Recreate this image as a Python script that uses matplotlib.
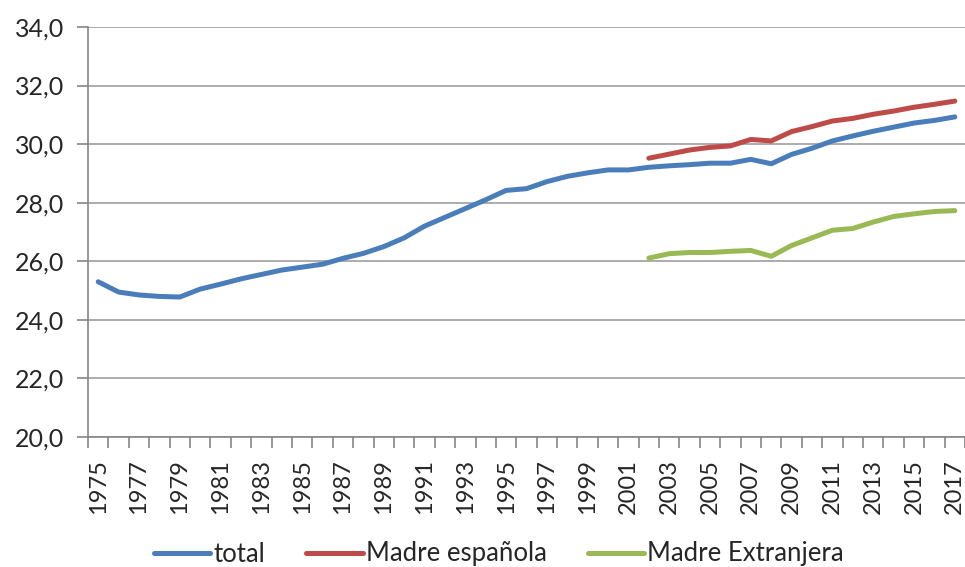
import matplotlib
matplotlib.use("Agg")
import matplotlib.pyplot as plt
import numpy as np

years = list(range(1975, 2018))
total = [25.3, 24.95, 24.85, 24.8, 24.78, 25.05, 25.22, 25.4, 25.55, 25.7,
         25.8, 25.9, 26.1, 26.27, 26.5, 26.8, 27.2, 27.5, 27.8, 28.1,
         28.42, 28.48, 28.72, 28.9, 29.02, 29.12, 29.12, 29.21, 29.26, 29.3,
         29.35, 29.35, 29.48, 29.33, 29.65, 29.86, 30.11, 30.28, 30.44, 30.58,
         30.72, 30.81, 30.93]
madre_esp_years = list(range(2002, 2018))
madre_esp = [29.52, 29.66, 29.8, 29.89, 29.94, 30.16, 30.11, 30.43, 30.6, 30.79,
             30.88, 31.02, 31.13, 31.26, 31.36, 31.47]
madre_ext = [26.11, 26.26, 26.3, 26.3, 26.34, 26.37, 26.17, 26.54, 26.8, 27.06,
             27.12, 27.34, 27.53, 27.62, 27.7, 27.73]
yticks = [20, 22, 24, 26, 28, 30, 32, 34]

plt.rcParams['font.family'] = ['Lato', 'DejaVu Sans']

fig = plt.figure(figsize=(9.65, 5.67), dpi=100)
ax = fig.add_axes([88/965, 1-437/567, (965-88)/965, (437-27)/567])

xi = np.arange(len(years))
idx0 = years.index(madre_esp_years[0])
lw = 3.6
ax.plot(xi, total, color='#4A7EBB', lw=lw, solid_capstyle='round', label='total', zorder=3)
ax.plot(xi[idx0:], madre_esp, color='#BE4B48', lw=lw, solid_capstyle='round', label='Madre española', zorder=3)
ax.plot(xi[idx0:], madre_ext, color='#98B954', lw=lw, solid_capstyle='round', label='Madre Extranjera', zorder=3)

ax.set_xlim(-0.5, len(years) - 0.5)
ax.set_ylim(20, 34)
ax.set_yticks(yticks)
ax.set_yticklabels([f"{v:.1f}".replace('.', ',') for v in yticks], fontsize=18, color='#262626')
ax.yaxis.grid(True, color='#A6A6A6', lw=1.3)
ax.set_axisbelow(True)

ax.set_xticks(np.arange(-0.5, len(years) + 0.5, 1.0))
ax.set_xticklabels([])
ax.set_xticks(xi[::2], minor=True)
ax.set_xticklabels([str(y) for y in years[::2]], minor=True, rotation=90, fontsize=17, color='#262626')
ax.tick_params(axis='x', which='major', length=8, color='#868686', width=1.2)
ax.tick_params(axis='x', which='minor', length=0, pad=16)
ax.tick_params(axis='y', length=8, color='#868686', width=1.2, pad=9)

for s in ['top', 'right']:
    ax.spines[s].set_visible(False)
for s in ['left', 'bottom']:
    ax.spines[s].set_color('#868686')
    ax.spines[s].set_linewidth(1.2)

leg = fig.legend(loc='center', bbox_to_anchor=(0.517, 1 - 554/567), ncol=3,
                 frameon=False, fontsize=18.5, handlelength=2.2, handletextpad=0.12,
                 columnspacing=1.6, borderpad=0)
for t in leg.get_texts():
    t.set_color('#262626')

fig.savefig('out.png', dpi=100)
